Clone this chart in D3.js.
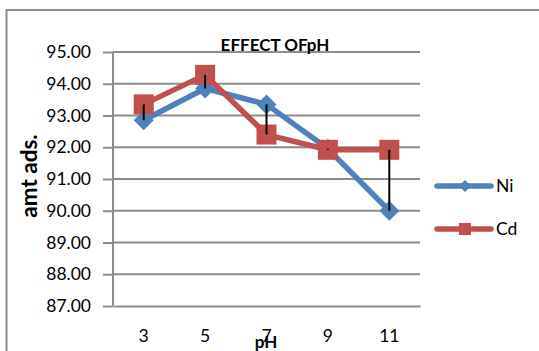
<!DOCTYPE html>
<html><head><meta charset="utf-8">
<script src="https://cdn.jsdelivr.net/npm/d3@7"></script>
<style>body{margin:0;background:#fff}svg{display:block}</style>
</head><body>
<svg id="c" width="539" height="351"></svg>
<script>
const categories = ["3", "5", "7", "9", "11"];
const niValues = [92.85, 93.85, 93.35, 91.95, 90.0];
const cdValues = [93.35, 94.28, 92.4, 91.92, 91.92];
const yTicks = [87, 88, 89, 90, 91, 92, 93, 94, 95];
const seriesNames = ["Ni", "Cd"];
const titleText = "EFFECT OFpH";
const xTitle = "pH";
const yTitle = "amt ads.";

(function () {
const svg = d3.select("#c");
const font = "Lato, 'Open Sans', sans-serif";
const pL = 113, pR = 420, pT = 52, pB = 306;
const x = d3.scaleBand().domain(categories).range([pL, pR]);
const y = d3.scaleLinear().domain([87, 95]).range([pB, pT]);
const blue = "#4F81BD", red = "#C0504D", grid = "#8C8C8C";

// outer chart border
svg.append("rect").attr("x", 6.5).attr("y", 10).attr("width", 600).attr("height", 400)
  .attr("fill", "none").attr("stroke", "#8C8C8C").attr("stroke-width", 2);

// gridlines
svg.append("g").selectAll("line").data(yTicks.filter(d => d > 87)).join("line")
  .attr("x1", pL).attr("x2", pR).attr("y1", d => y(d)).attr("y2", d => y(d))
  .attr("stroke", grid).attr("stroke-width", 2);

// y axis
const yAxis = svg.append("g").attr("transform", `translate(${pL},0)`)
  .call(d3.axisLeft(y).tickValues(yTicks).tickFormat(d3.format(".2f")).tickSize(10).tickPadding(12));
yAxis.select(".domain").attr("stroke", grid).attr("stroke-width", 2).attr("d", `M0,${pT}V${pB}`);
yAxis.selectAll(".tick line").attr("stroke", grid).attr("stroke-width", 2);
yAxis.selectAll("text").attr("font-family", font).attr("font-size", 17.5).attr("fill", "#000");

// x axis
const xAxis = svg.append("g").attr("transform", `translate(0,${pB})`)
  .call(d3.axisBottom(x).tickSize(0).tickPadding(24));
xAxis.select(".domain").attr("stroke", grid).attr("stroke-width", 2);
xAxis.selectAll("text").attr("font-family", font).attr("font-size", 17.5).attr("fill", "#000");

const cx = d => x(d) + x.bandwidth() / 2;
const line = d3.line().x(d => cx(d.c)).y(d => y(d.v));
const ni = categories.map((c, i) => ({c, v: niValues[i]}));
const cd = categories.map((c, i) => ({c, v: cdValues[i]}));

svg.append("path").datum(ni).attr("d", line).attr("fill", "none").attr("stroke", blue)
  .attr("stroke-width", 5.5).attr("stroke-linejoin", "round");
svg.append("g").selectAll("path").data(ni).join("path")
  .attr("d", "M0,-10L10,0L0,10L-10,0Z").attr("fill", blue)
  .attr("transform", d => `translate(${cx(d.c)},${y(d.v)})`);

svg.append("path").datum(cd).attr("d", line).attr("fill", "none").attr("stroke", red)
  .attr("stroke-width", 5.5).attr("stroke-linejoin", "round");
svg.append("g").selectAll("rect").data(cd).join("rect")
  .attr("x", d => cx(d.c) - 10).attr("y", d => y(d.v) - 10).attr("width", 20).attr("height", 20)
  .attr("fill", red);

// high-low lines
svg.append("g").selectAll("line").data(categories.map((c, i) => ({c, hi: Math.max(niValues[i], cdValues[i]), lo: Math.min(niValues[i], cdValues[i])})))
  .join("line").attr("x1", d => cx(d.c)).attr("x2", d => cx(d.c))
  .attr("y1", d => y(d.hi)).attr("y2", d => y(d.lo)).attr("stroke", "#000").attr("stroke-width", 2);

// title
svg.append("text").attr("x", 275).attr("y", 51).attr("text-anchor", "middle")
  .attr("font-family", font).attr("font-weight", "bold").attr("font-size", 17).text(titleText);
// axis titles
svg.append("text").attr("x", 266).attr("y", 348).attr("text-anchor", "middle")
  .attr("font-family", font).attr("font-weight", "bold").attr("font-size", 17).text(xTitle);
svg.append("text").attr("transform", "translate(37,176) rotate(-90)").attr("text-anchor", "middle")
  .attr("font-family", font).attr("font-weight", "bold").attr("font-size", 22.5).text(yTitle);

// legend
const leg = svg.append("g");
[[seriesNames[0], blue, 186, "d"], [seriesNames[1], red, 229, "s"]].forEach(([n, col, ly, m]) => {
  leg.append("line").attr("x1", 437).attr("x2", 491).attr("y1", ly).attr("y2", ly)
    .attr("stroke", col).attr("stroke-width", 5.5).attr("stroke-linecap", "round");
  if (m === "d") leg.append("path").attr("d", "M0,-6L6,0L0,6L-6,0Z").attr("fill", col).attr("transform", `translate(465,${ly})`);
  else leg.append("rect").attr("x", 459).attr("y", ly - 6).attr("width", 12).attr("height", 12).attr("fill", col);
  leg.append("text").attr("x", 496).attr("y", ly).attr("dy", "0.36em")
    .attr("font-family", font).attr("font-size", 17.5).text(n);
});
})();
</script>
</body></html>
